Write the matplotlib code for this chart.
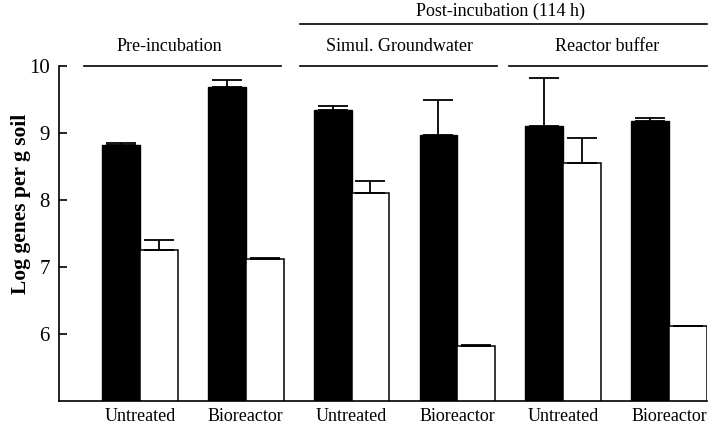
import numpy as np
import matplotlib
matplotlib.use("Agg")
import matplotlib.pyplot as plt

plt.rcParams['font.family'] = ['Liberation Serif', 'DejaVu Serif']

# data
labels = ["Untreated", "Bioreactor", "Untreated", "Bioreactor", "Untreated", "Bioreactor"]
black_vals = [8.82, 9.68, 9.35, 8.97, 9.11, 9.18]
black_err = [0.03, 0.11, 0.05, 0.52, 0.71, 0.05]
white_vals = [7.26, 7.12, 8.10, 5.82, 8.55, 6.12]
white_err = [0.15, 0.02, 0.19, 0.01, 0.37, 0.0]
group_names = ["Pre-incubation", "Simul. Groundwater", "Reactor buffer"]
top_name = "Post-incubation (114 h)"

x = np.arange(len(labels))
w = 0.358

fig = plt.figure(figsize=(7.14, 4.24), dpi=100)
ax = fig.add_axes([0.0826, 0.0542, 0.9076, 0.790])

ekw = dict(ecolor='black', elinewidth=1.3, capsize=11, capthick=1.3)
ax.bar(x - w / 2, black_vals, w, color='black', edgecolor='black', linewidth=1.0,
       yerr=[np.zeros(len(x)), black_err], error_kw=ekw)
ax.bar(x + w / 2, white_vals, w, color='white', edgecolor='black', linewidth=1.1,
       yerr=[np.zeros(len(x)), white_err], error_kw=ekw)

ax.set_xlim(-0.764, 5.358)
ax.set_ylim(5, 10)
ax.set_yticks([6, 7, 8, 9, 10])
ax.set_xticks(x)
ax.set_xticklabels(labels)
ax.tick_params(axis='y', direction='in', length=6, width=1.2, pad=6.5, labelsize=15)
ax.tick_params(axis='x', length=0, pad=5, labelsize=13)
for s in ['top', 'right']:
    ax.spines[s].set_visible(False)
for s in ['left', 'bottom']:
    ax.spines[s].set_linewidth(1.2)

# group brackets above the plot
spans = [(-0.53, 1.33), (1.51, 3.37), (3.49, 5.36)]
text_x = [0.283, 2.45, 4.41]
for (a, b), tx, name in zip(spans, text_x, group_names):
    ax.plot([a, b], [10, 10], color='black', lw=1.2, clip_on=False)
    ax.text(tx, 10.29, name, ha='center', va='center', fontsize=13)
ax.plot([1.51, 5.36], [10.63, 10.63], color='black', lw=1.2, clip_on=False)
ax.text(3.41, 10.82, top_name, ha='center', va='center', fontsize=13)

fig.text(21 / 714, 1 - 203.5 / 424, "Log genes per g soil", rotation=90,
         ha='center', va='center', fontsize=15.5, fontweight='bold')

fig.savefig("out.png", dpi=100)
